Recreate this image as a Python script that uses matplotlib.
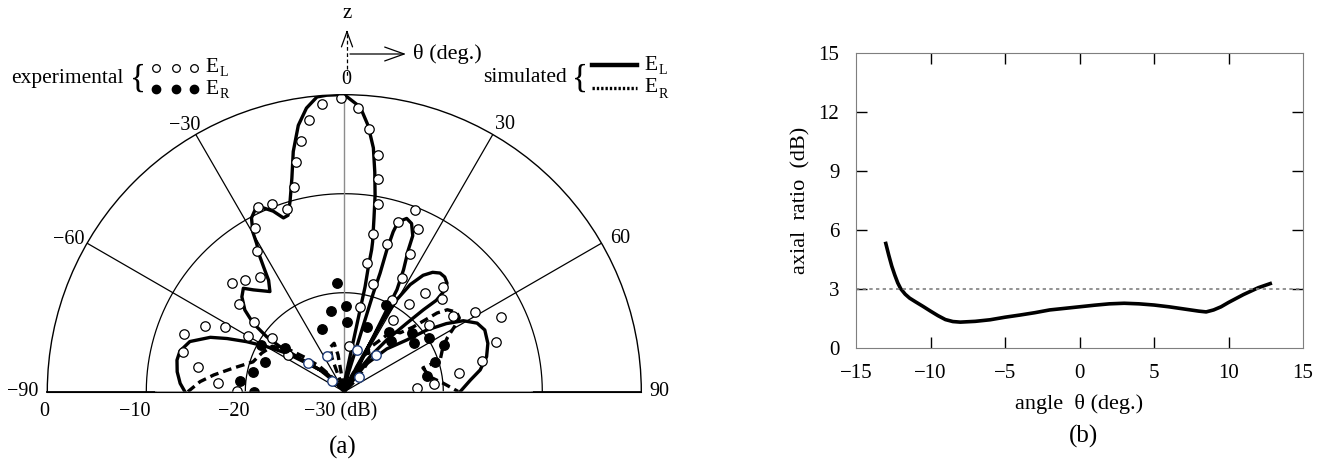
import numpy as np
import matplotlib
matplotlib.use("Agg")
import matplotlib.pyplot as plt

plt.rcParams['font.family'] = ['Liberation Serif', 'DejaVu Serif']

# (a) radiation pattern, theta in degrees, level in dB (-30 at the centre)
sim_el_theta = [-90, -87.1, -83.2, -79.3, -76.1, -72, -67.9, -65.6, -62.9, -59.9, -56.3, -52.9, -43.7, -40.7, -45,
                -42.1, -48.2, -53, -55, -54.7, -53.1, -50.6, -47.2, -44.3, -41.8, -36.6, -34.2, -32.9, -32, -30.6,
                -29.8, -28.1, -26, -23.8, -21.5, -19.3, -17.7, -15.9, -13.8, -12, -9.8, -7.6, -5.3, -3.4, -1.3,
                0.5, 3.2, 5.1, 6.8, 7.9, 8.9, 9.7, 10.7, 10.9, 10.9, 11.2, 10.9, 10.4, 9.2, 3.4, 6,
                12.3, 15.4, 16.1, 16.4, 16.8, 16.7, 17, 17.6, 19.8, 21.8, 23.7, 24.3, 25.9, 27.3, 27.4, 27.7,
                28.2, 30.2, 28,
                26.4, 28, 28.5, 29.7, 31.6, 34.1, 36.5, 38.9, 41.2, 43.4, 44.7, 45.2, 44, 42.4, 39.4, 36.3, 31, 34,
                37.8, 44.8, 50.4, 53.2, 56.3, 59.2, 62.7, 66.3, 71.4, 76.2, 80.9, 84.7, 90]
sim_el_db = [-13.9, -13.4, -13, -12.8, -12.9, -13.6, -15.4, -17, -18.9, -20.9, -23, -25.2, -27.4, -29.3, -30,
             -28.9, -26.7, -24.4, -22.1, -20.4, -18.5, -17, -15.9, -15.4, -16.2, -17.4, -16.4, -15, -13.9, -12.6,
             -11.4, -10.1, -9.5, -9.7, -10.4, -11.4, -11.3, -10, -7.8, -5.2, -2.7, -1.1, -0.1, 0, 0,
             -0.2, -1.2, -3, -5.2, -7.6, -9.9, -12.2, -14.6, -15.4, -17.1, -19.2, -21.6, -24, -26.4, -28.8, -30,
             -28.1, -25.3, -22.5, -19.6, -17.5, -15.1, -13.1, -12, -11.4, -11.7, -12.8, -14.3, -16.3, -18.4, -20.7,
             -23, -25.2, -27.9, -30,
             -27.2, -24.5, -21.8, -19.3, -17.3, -15.8, -15, -14.6, -14.6, -14.9, -15.5, -16.9, -18.5, -20.6, -23.2,
             -25.6, -28.2, -30,
             -26.6, -23.9, -21.8, -19.6, -17.6, -16, -14.9, -14.5, -14.7, -15.2, -16.1, -17.2, -18.3]

sim_er_theta = [-90, -86, -82.7, -78.1, -71.9, -64.8, -57.7, -52.5, -48.7, -44.2, -39.5, -41.7, -30,
                -20.3, -20.1, -17.7, -11.9, -9.7, -9.5, 10,
                28.3, 27.6, 31.9, 38.6, 45, 35,
                24.8, 28.7, 28.7, 31.6, 35.8, 38.2, 43.5, 46.7, 48.4, 49.7, 51.5, 54.7, 57.3, 59.5, 62.2, 65.2,
                71.7, 73.2, 80.3, 85, 89.9]
sim_er_db = [-14.2, -15.4, -16.7, -18.5, -20.3, -20.8, -21.4, -23.1, -24.8, -26.5, -28.2, -29.5, -30,
             -27.9, -26.4, -25.3, -25, -26.2, -28, -30,
             -27.5, -25.9, -25.3, -26.2, -28, -30,
             -28.1, -26.7, -25.4, -24.5, -23.3, -22.2, -21.8, -20.5, -19.1, -17.7, -16.7, -16.1, -16.2, -17.1,
             -18.2, -19, -19.8, -21.7, -21.2, -20, -18.5]

exp_el_theta = [-0.6, -4.5, 2.8, -7.4, 5.4, -9.8, 8, -11.9, 8.9, -13.7, 10.1, -24.9, -21.1, -17.5, -28.7, 21.3,
                17.7, 24.3, 10.4, 16, -32, -46.1, -41.6, -36.2, -50.1, -52.5, -70.2, -64.8, -61.6, -59.9, -53.7,
                -76.1, -80.5, -86.2, -89.5, -57.2, 25.5, 9.9, 15.1, 27.1, 39.4, 43.3, 46.5, 27.5, 36.4, 10.5,
                34.3, 51.9, 55.2, 58.5, 64.6, 71.8, 77.4, 80.6, 85.1, 87.3, 6.2]
exp_el_db = [-0.3, -0.8, -1.3, -2.3, -3.3, -4.3, -5.9, -6.3, -8.3, -8.7, -10.7, -9.4, -9.7, -10.7, -11.2, -10.3,
             -12, -12, -13.8, -14.5, -13.3, -14.2, -14.9, -15.6, -16.2, -18.5, -12.8, -14.4, -16.3, -18.8, -20.9,
             -13.2, -15, -17.2, -19.2, -23.2, -14.6, -16.8, -18.7, -17.1, -17.1, -15.4, -16.4, -19.6, -19, -21.3,
             -21.2, -19.1, -16.6, -14.5, -12.5, -13.9, -15.7, -18.3, -20.9, -22.6, -25.4]
# points near the centre that are printed with a bluish rim
exp_el_theta_rim = [-51.6, -26.1, -48.9, 17.3, 40.5, 44.4]
exp_el_db_rim = [-25.3, -26, -28.3, -25.6, -25.1, -27.9]

exp_er_theta = [-3.6, -9.3, 1.3, 2.5, -19.4, 19.7, 25.7, -60.7, -69.3, -53.4, -77.5, -83.9, -90, 36.8, 42.8,
                49.1, 55.2, 57.7, 65, 71.7, 79.3]
exp_er_db = [-19, -21.7, -21.3, -23, -23.3, -23.1, -20.3, -20.4, -21.4, -22.6, -20.6, -19.4, -20.9, -22.5, -23,
             -21, -21.4, -19.9, -18.9, -20.3, -21.5]

rings = [-10, -20]
spokes = [-60, -30, 30, 60]
angle_labels = ['\u221290', '\u221260', '\u221230', '0', '30', '60', '90']
radial_labels = ['0', '\u221210', '\u221220', '\u221230 (dB)']

# (b) axial ratio
ar_theta = [-13.0, -12.8, -12.6, -12.4, -12.2, -12.0, -11.7, -11.4, -11.0, -10.5, -10.0, -9.5, -9.0, -8.5, -8.0,
            -7.0, -6.0, -5.0, -4.0, -3.0, -2.0, -1.0, 0.0, 1.0, 2.0, 3.0, 4.0, 5.0, 6.0, 7.0, 8.0, 8.5, 9.0,
            9.5, 10.0, 11.0, 12.0, 12.8]
ar_db = [5.3, 4.7, 4.15, 3.7, 3.3, 3.0, 2.72, 2.52, 2.33, 2.1, 1.86, 1.63, 1.43, 1.33, 1.3,
         1.34, 1.42, 1.55, 1.66, 1.78, 1.92, 2.0, 2.08, 2.16, 2.23, 2.26, 2.23, 2.17, 2.08, 1.97, 1.86, 1.82, 1.92,
         2.08, 2.3, 2.7, 3.05, 3.26]
ar_limit = 3

W, H = 1340, 465
cx, cy, R = 344.3, 391.7, 297.0
fig = plt.figure(figsize=(13.4, 4.65), dpi=100)

# half polar plot; the wedge sits in the middle of a square box
ax = fig.add_axes([(cx - R) / W, (H - cy - R / 2) / H, 2 * R / W, 2 * R / H], projection="polar")
ax.set_theta_zero_location("N")
ax.set_theta_direction(-1)
ax.set_thetamin(-90)
ax.set_thetamax(90)
ax.set_rlim(-30, 0)
ax.set_xticks([])
ax.set_yticks([])
ax.grid(False)
ax.spines['polar'].set_linewidth(1.0)
ax.spines['start'].set_visible(False)
ax.spines['end'].set_visible(False)

arc = np.radians(np.linspace(-90, 90, 181))
for ring in rings:
    ax.plot(arc, np.full(arc.size, ring), color='k', lw=0.9, clip_on=False)
for sp in spokes:
    ax.plot([np.radians(sp)] * 2, [-30, 0], color='k', lw=0.9)
ax.plot([0, 0], [-30, 0], color='#8c8c8c', lw=1.0)
for side in (-90, 90):
    ax.plot([np.radians(side)] * 2, [-11, 0], color='k', lw=1.3, clip_on=False)
    ax.plot([np.radians(side)] * 2, [-30, -11], color='#9a9a9a', lw=1.3, clip_on=False)

ax.plot(np.radians(sim_el_theta), sim_el_db, color='k', lw=2.4, solid_joinstyle='round')
ax.plot(np.radians(sim_er_theta), sim_er_db, color='k', lw=2.4, dashes=[2.6, 1.5])
ax.plot(np.radians(exp_el_theta), exp_el_db, 'o', mfc='white', mec='k', mew=0.9, ms=6.8, ls='none')
ax.plot(np.radians(exp_el_theta_rim), exp_el_db_rim, 'o', mfc='white', mec='#1f3c78', mew=1.0, ms=6.8, ls='none')
ax.plot(np.radians(exp_er_theta), exp_er_db, 'o', mfc='k', mec='k', ms=6.8, ls='none')

offsets = {-60: (-18, 4), -30: (-11, 9), 0: (2, 15), 30: (12, 10), 60: (19, 5)}
for txt, a in zip(angle_labels, [-90, -60, -30, 0, 30, 60, 90]):
    if a == -90:
        off, ha = (-9, 0), 'right'
    elif a == 90:
        off, ha = (8, 0), 'left'
    else:
        off, ha = offsets[a], 'center'
    ax.annotate(txt, xy=(np.radians(a), 0), xytext=off, textcoords='offset pixels', ha=ha, va='center',
                fontsize=14.5, annotation_clip=False)
for txt, rv, dx in zip(radial_labels, [0, -10, -20, -30], [-3, -12, -12, -4]):
    ax.annotate(txt, xy=(np.radians(-90), rv), xytext=(dx, -20), textcoords='offset pixels', ha='center',
                va='center', fontsize=14.5, annotation_clip=False)

# (b)
ax2 = fig.add_axes([856 / W, (H - 347.7) / H, 447 / W, 295 / H])
ax2.plot(ar_theta, ar_db, color='k', lw=2.6)
ax2.axhline(ar_limit, color='#808080', lw=1.2, ls=(0, (2, 2)))
ax2.set_xlim(-15, 15)
ax2.set_ylim(0, 15)
ax2.set_xticks(range(-15, 16, 5))
ax2.set_yticks(range(0, 16, 3))
ax2.tick_params(direction='in', length=8, width=1, top=True, right=True, labelsize=15, pad=12)
for s in ax2.spines.values():
    s.set_color('#7f7f7f')
for tk in (ax2.xaxis.get_major_ticks()[0], ax2.xaxis.get_major_ticks()[-1],
           ax2.yaxis.get_major_ticks()[0], ax2.yaxis.get_major_ticks()[-1]):
    tk.tick1line.set_visible(False)
    tk.tick2line.set_visible(False)
ax2.set_xlabel('angle  \u03b8 (deg.)', fontsize=16, labelpad=8)
ax2.set_ylabel('axial  ratio  (dB)', fontsize=16, labelpad=6)

# annotations and legends in pixel coordinates
ov = fig.add_axes([0, 0, 1, 1])
ov.set_xlim(0, W)
ov.set_ylim(H, 0)
ov.axis('off')
ov.text(347, 13, 'z', fontsize=15, ha='center', va='center')
ov.plot([347, 347], [34, 76], color='k', lw=0.9, ls=(0, (3, 2)))
ov.annotate('', xy=(347, 27), xytext=(347, 36),
            arrowprops=dict(arrowstyle='->,head_length=1.1,head_width=0.4', lw=0.9))
ov.annotate('', xy=(406, 54), xytext=(350, 54),
            arrowprops=dict(arrowstyle='->,head_length=1.4,head_width=0.5', lw=0.9, shrinkA=0, shrinkB=0))
ov.text(413, 54, '\u03b8 (deg.)', fontsize=16, ha='left', va='center')

ov.text(11, 78, 'experimental', fontsize=15.5, ha='left', va='center')
ov.text(138, 79, '{', fontsize=24, ha='center', va='center')
ov.plot([156, 176, 194], [68, 68, 68], 'o', mfc='white', mec='k', mew=0.9, ms=5.5)
ov.plot([156, 176, 194], [89, 89, 89], 'o', mfc='k', mec='k', ms=6)
ov.text(205, 68, 'E', fontsize=15.5, ha='left', va='center')
ov.text(220, 73, 'L', fontsize=10, ha='left', va='center')
ov.text(205, 89, 'E', fontsize=15.5, ha='left', va='center')
ov.text(220, 95, 'R', fontsize=10, ha='left', va='center')

ov.text(483, 78, 'simulated', fontsize=15.5, ha='left', va='center')
ov.text(580, 78, '{', fontsize=24, ha='center', va='center')
ov.plot([592, 637], [65, 65], color='k', lw=3.2)
ov.plot([592, 637], [88, 88], color='k', lw=2.4, ls=(0, (0.7, 0.6)))
ov.text(644, 65, 'E', fontsize=15.5, ha='left', va='center')
ov.text(659, 70, 'L', fontsize=10, ha='left', va='center')
ov.text(644, 88, 'E', fontsize=15.5, ha='left', va='center')
ov.text(659, 94, 'R', fontsize=10, ha='left', va='center')

ov.text(343, 447, '(a)', fontsize=18, ha='center', va='center')
ov.text(1083, 436, '(b)', fontsize=18, ha='center', va='center')

fig.savefig("out.png")
